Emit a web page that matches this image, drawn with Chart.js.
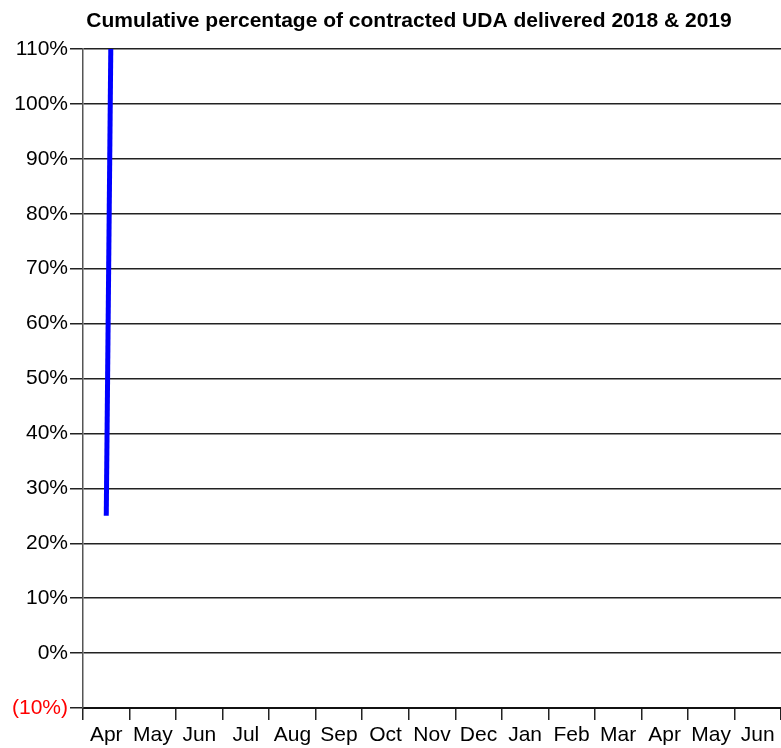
<!DOCTYPE html>
<html>
<head>
<meta charset="utf-8">
<script src="https://cdn.jsdelivr.net/npm/chart.js@4"></script>
<style>
  html, body { margin: 0; padding: 0; background: #fff; }
  #wrap { width: 781px; height: 748px; position: relative; }
</style>
</head>
<body>
<div id="wrap"><canvas id="mainChart"></canvas></div>
<script>
var months = ["Apr", "May", "Jun", "Jul", "Aug", "Sep", "Oct", "Nov", "Dec", "Jan", "Feb", "Mar", "Apr", "May", "Jun"];
var cumulativePct = [25, 900, null, null, null, null, null, null, null, null, null, null, null, null, null];
var chartTitle = "Cumulative percentage of contracted UDA delivered 2018 & 2019";
var yMin = -10, yMax = 110, yStep = 10;

// title centred over the original chart box, not the canvas centre
var titlePlugin = {
    id: "offsetTitle",
    afterDraw: function (chart) {
        var c = chart.ctx;
        c.save();
        c.font = "bold 21px 'Liberation Sans', Arial, sans-serif";
        c.fillStyle = "#000";
        c.textAlign = "center";
        c.textBaseline = "middle";
        c.fillText(chartTitle, 409, 21);
        c.restore();
    }
};

var ctx = document.getElementById("mainChart").getContext("2d");
var myChart = new Chart(ctx, {
    type: "line",
    data: {
        labels: months,
        datasets: [
            {
                data: cumulativePct,
                borderColor: "#0000FF",
                borderWidth: 5,
                pointRadius: 0,
                tension: 0,
                clip: 0,
            },
        ],
    },
    options: {
        responsive: true,
        maintainAspectRatio: false,
        animation: false,
        layout: { padding: { top: 49, left: 0, right: 0, bottom: 0 } },
        plugins: {
            legend: { display: false },
            tooltip: { enabled: false },
        },
        scales: {
            x: {
                offset: true,
                grid: {
                    offset: true,
                    drawOnChartArea: false,
                    color: "#222",
                    lineWidth: 1.5,
                    tickLength: 12,
                },
                border: { color: "#111", width: 2 },
                ticks: {
                    color: "#000",
                    font: { family: "'Liberation Sans', Arial, sans-serif", size: 21 },
                    padding: 3,
                    maxRotation: 0,
                    autoSkip: false,
                },
                afterFit: function (scale) { scale.height = 40; },
            },
            y: {
                min: yMin,
                max: yMax,
                grid: {
                    color: "#222",
                    lineWidth: 1.5,
                    tickLength: 13,
                },
                border: { color: "#555", width: 1.5 },
                ticks: {
                    stepSize: yStep,
                    padding: 2,
                    font: { family: "'Liberation Sans', Arial, sans-serif", size: 21 },
                    color: function (c) { return c.tick.value < 0 ? "#FF0000" : "#000"; },
                    callback: function (v) { return v < 0 ? "(" + (-v) + "%)" : v + "%"; },
                },
                afterFit: function (scale) { scale.width = 83; },
            },
        },
    },
    plugins: [titlePlugin],
});
</script>
</body>
</html>
